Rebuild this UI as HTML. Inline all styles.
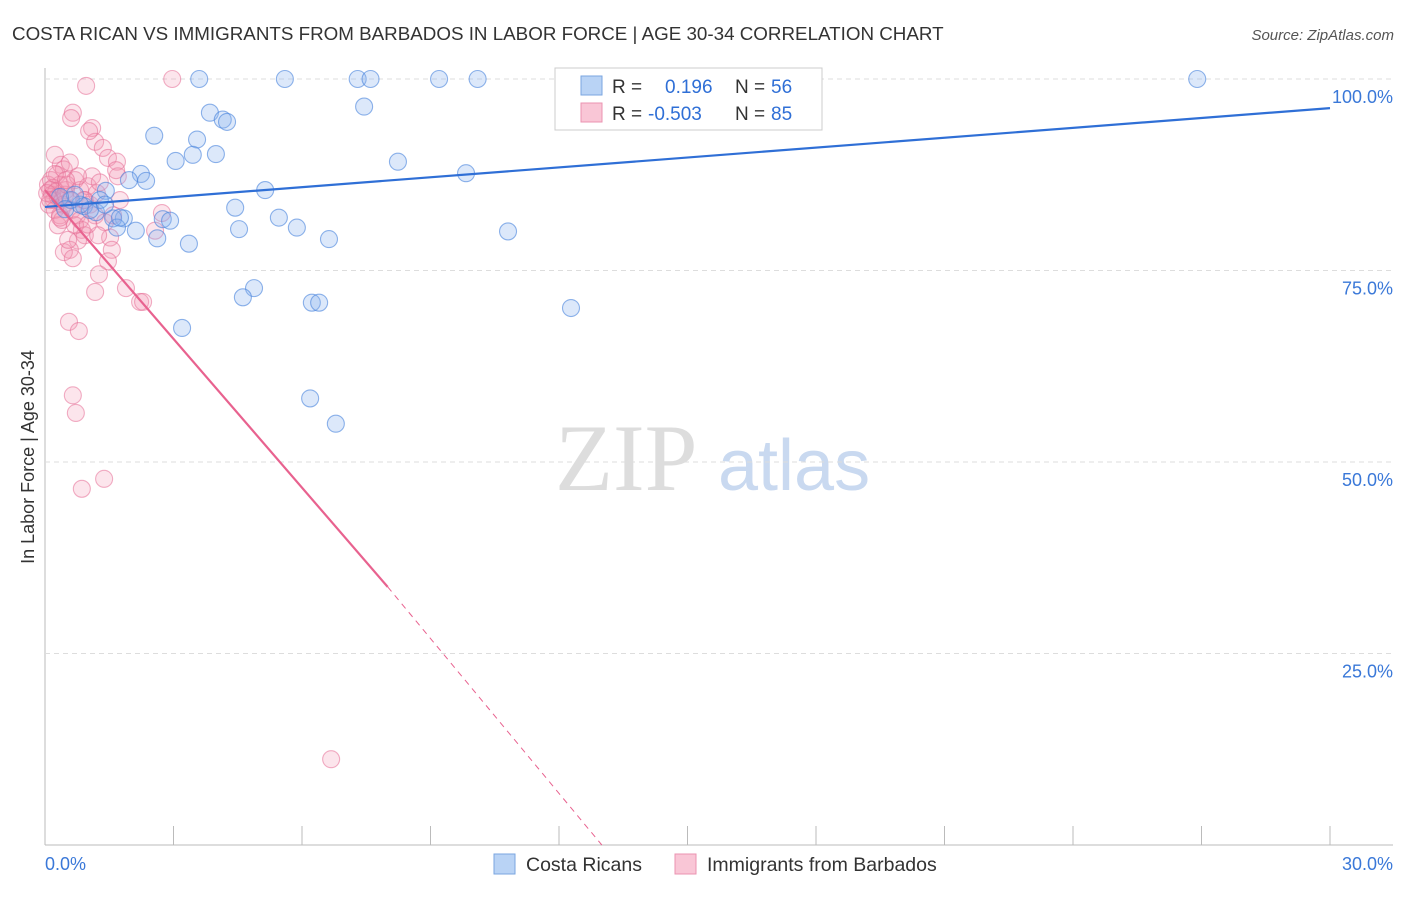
<!DOCTYPE html>
<html><head><meta charset="utf-8"><style>
body{margin:0;background:#fff;font-family:"Liberation Sans",sans-serif}
</style></head><body>
<svg id="c" width="1406" height="892" xmlns="http://www.w3.org/2000/svg">
<text x="12" y="40" font-size="18.8" fill="#333">COSTA RICAN VS IMMIGRANTS FROM BARBADOS IN LABOR FORCE | AGE 30-34 CORRELATION CHART</text>
<text x="1394" y="40" font-size="15" fill="#555" font-style="italic" text-anchor="end">Source: ZipAtlas.com</text>
<text x="34" y="457" font-size="18" fill="#333" text-anchor="middle" transform="rotate(-90 34 457)">In Labor Force | Age 30-34</text>
<text x="555" y="490" font-size="95" fill="#ddd" font-family="Liberation Serif,serif">ZIP</text>
<text x="718" y="490" font-size="72" fill="#c9d9f0">atlas</text>
<g id="grid"></g><g id="pts"></g><g id="lines"></g>
<g>
<rect x="555" y="68" width="267" height="62" fill="#fff" stroke="#ccc"/>
<rect x="581" y="76" width="21" height="19" fill="#b9d3f5" stroke="#7aa6e0"/>
<rect x="581" y="103" width="21" height="19" fill="#f9c6d6" stroke="#eb93b0"/>
<text x="612" y="93" font-size="19" fill="#333">R = <tspan fill="#2f6fd6" x="665">0.196</tspan><tspan fill="#333" x="735">N =</tspan><tspan fill="#2f6fd6" x="771">56</tspan></text>
<text x="612" y="120" font-size="19" fill="#333">R = <tspan fill="#2f6fd6" x="648">-0.503</tspan><tspan fill="#333" x="735">N =</tspan><tspan fill="#2f6fd6" x="771">85</tspan></text>
</g>
<g>
<rect x="494" y="854" width="21" height="20" fill="#b9d3f5" stroke="#7aa6e0"/>
<text x="526" y="871" font-size="19.5" fill="#333">Costa Ricans</text>
<rect x="675" y="854" width="21" height="20" fill="#f9c6d6" stroke="#eb93b0"/>
<text x="707" y="871" font-size="19.5" fill="#333">Immigrants from Barbados</text>
</g>
</svg>
<script>
const yTicks=[25,50,75,100];
const xTickLabels=["0.0%","30.0%"];
const blueX=[3.6,5.6,7.3,7.6,9.2,10.1,26.9,7.45,3.85,4.15,4.25,2.55,3.55,3.05,3.45,3.99,8.24,9.83,2.24,1.96,2.36,1.42,5.14,0.61,0.91,4.44,1.19,5.46,1.84,1.59,2.75,2.92,1.68,4.53,5.88,2.12,2.62,6.63,3.36,10.81,4.88,4.62,6.23,6.4,12.28,3.2,6.19,6.79,1.28,1.05,0.82,1.75,1.4,0.7,0.35,0.47];
const blueY=[100,100,100,100,100,100,100,96.4,95.6,94.7,94.4,92.6,92.1,89.3,90.1,90.2,89.2,87.7,87.6,86.8,86.7,85.4,85.5,84.2,83.4,83.2,82.6,81.9,81.8,81.8,81.7,81.5,80.6,80.4,80.6,80.2,79.2,79.1,78.5,80.1,72.7,71.5,70.8,70.8,70.1,67.5,58.3,55,84.2,82.9,83.6,81.9,83.6,84.9,84.6,83]; 
const pinkX=[2.97,0.96,0.65,0.61,1.1,1.17,1.03,1.35,1.47,1.68,1.7,0.37,0.44,0.58,0.23,0.28,0.35,0.49,0.7,0.82,0.93,1.05,1.17,1.4,1.52,1.56,1.47,1.26,1.17,1.89,2.22,2.29,2.73,2.57,0.56,0.79,0.65,0.72,0.86,1.38,6.68,0.07,0.12,0.16,0.21,0.09,0.14,0.19,0.26,0.3,0.05,0.12,0.23,0.35,0.42,0.47,0.51,0.58,0.63,0.75,0.82,0.86,0.93,0.77,0.7,0.58,0.44,0.3,0.4,0.54,0.65,1,1.1,1.21,1.28,1.59,1.66,1.75,1.24,1,0.91,0.77,0.23,0.35,0.49];
const pinkY=[100,99.1,95.6,94.9,93.6,91.8,93.2,91,89.7,89.2,87.3,88.8,88.2,89.1,90.1,87.5,86.2,85.5,86.8,85.5,84.2,83.6,82.2,81.3,79.3,77.7,76.2,74.5,72.2,72.7,70.9,70.9,82.5,80.2,68.3,67.1,58.7,56.4,46.5,47.8,11.2,86.2,85.5,84.9,84.2,83.6,86.8,85.8,85.3,84.6,85.1,84.2,82.9,82.2,83.6,84.9,86.2,84.2,82.9,82.2,81.6,80.3,79.6,78.9,80.9,77.7,77.4,80.9,81.6,79,76.6,86,87.3,85.1,86.5,82.2,88.1,84.2,79.6,81,84.2,87.3,87.6,81.9,86.8];
const ns="http://www.w3.org/2000/svg";
const X0=45,X1=1330,YB=845,YT=79;
const sx=v=>X0+v/30*(X1-X0), sy=v=>YB-v/100*(YB-YT);
function mk(t,a,p){const e=document.createElementNS(ns,t);for(const k in a)e.setAttribute(k,a[k]);p.appendChild(e);return e;}
const g=document.getElementById('grid');
const axl=mk('line',{x1:X0,y1:68,x2:X0,y2:YB,stroke:'#bbb'},g);


const axb=mk('line',{x1:X0,y1:YB,x2:1393,y2:YB,stroke:'#bbb'},g);


yTicks.forEach(v=>{
 const l=mk('line',{x1:X0,y1:sy(v),x2:1393,y2:sy(v),stroke:'#ddd','stroke-dasharray':'5,4'},g);
 
 
 const t=mk('text',{x:1393,y:sy(v)+24,'font-size':18,fill:'#3a78d8','text-anchor':'end'},g);
 t.textContent=v.toFixed(1)+'%';
 
 
});
for(let i=1;i<=10;i++){const x=X0+i*(X1-X0)/10;const l=mk('line',{x1:x,y1:826,x2:x,y2:YB,stroke:'#bbb'},g);
 
 }
const t0=mk('text',{x:45,y:870,'font-size':18,fill:'#3a78d8'},g);t0.textContent=xTickLabels[0];


const t1=mk('text',{x:1393,y:870,'font-size':18,fill:'#3a78d8','text-anchor':'end'},g);t1.textContent=xTickLabels[1];


const P=document.getElementById('pts');
pinkX.forEach((v,i)=>{const c=mk('circle',{cx:sx(v),cy:sy(pinkY[i]),r:8.5,fill:'rgba(245,150,180,0.25)',stroke:'rgba(230,110,150,0.55)','stroke-width':1.1},P);
 
 });
blueX.forEach((v,i)=>{const c=mk('circle',{cx:sx(v),cy:sy(blueY[i]),r:8.5,fill:'rgba(140,180,240,0.3)',stroke:'rgba(70,130,220,0.6)','stroke-width':1.1},P);
 
 });
const L=document.getElementById('lines');
const bl=mk('line',{x1:sx(0),y1:sy(83.3),x2:sx(30),y2:sy(96.2),stroke:'#2f6fd6','stroke-width':2.2},L);


const pl=mk('line',{x1:sx(0),y1:sy(85.5),x2:sx(8.0),y2:sy(33.7),stroke:'#e8628f','stroke-width':2.2},L);


const pd=mk('line',{x1:sx(8.0),y1:sy(33.7),x2:sx(13.0),y2:sy(0),stroke:'#e8628f','stroke-width':1,'stroke-dasharray':'6,5'},L);


</script>
</body></html>
